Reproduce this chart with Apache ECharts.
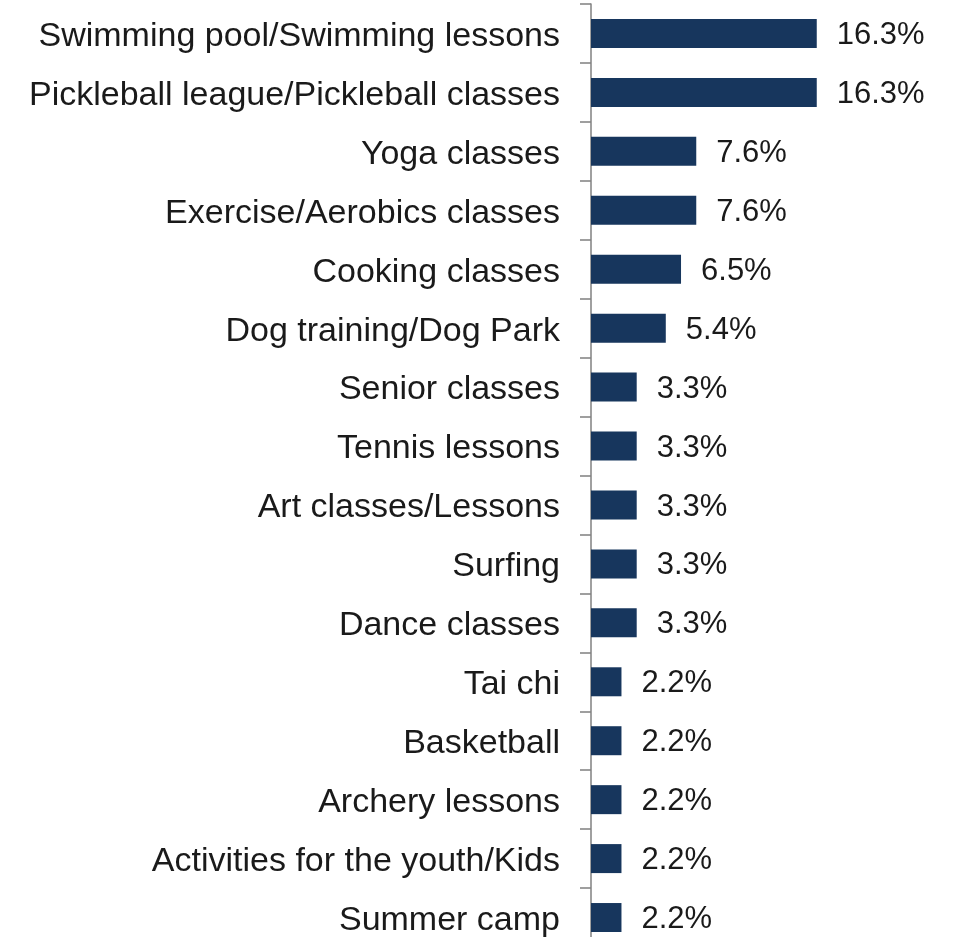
<!DOCTYPE html>
<html>
<head>
<meta charset="utf-8">
<script src="https://cdn.jsdelivr.net/npm/echarts@6/dist/echarts.min.js"></script>
<style>
html,body{margin:0;padding:0;background:#fff;overflow:hidden;}
#chart{width:953px;height:960px;}
</style>
</head>
<body>
<div id="chart"></div>
<script>
const categories = [
  "Swimming pool/Swimming lessons",
  "Pickleball league/Pickleball classes",
  "Yoga classes",
  "Exercise/Aerobics classes",
  "Cooking classes",
  "Dog training/Dog Park",
  "Senior classes",
  "Tennis lessons",
  "Art classes/Lessons",
  "Surfing",
  "Dance classes",
  "Tai chi",
  "Basketball",
  "Archery lessons",
  "Activities for the youth/Kids",
  "Summer camp"
];
const values = [16.3, 16.3, 7.6, 7.6, 6.5, 5.4, 3.3, 3.3, 3.3, 3.3, 3.3, 2.2, 2.2, 2.2, 2.2, 2.2];

const chart = echarts.init(document.getElementById('chart'));
chart.setOption({
  animation: false,
  backgroundColor: '#ffffff',
  grid: { left: 591, top: 4, width: 277, height: 943, containLabel: false },
  xAxis: {
    type: 'value', min: 0, max: 20,
    show: false
  },
  yAxis: {
    type: 'category',
    data: categories,
    inverse: true,
    axisLine: { show: true, lineStyle: { color: '#808080', width: 1.5 } },
    axisTick: { show: true, length: 11, lineStyle: { color: '#808080', width: 1.5 } },
    axisLabel: {
      margin: 31,
      formatter: v => '{t|' + v + '}',
      rich: {
        t: {
          padding: [6, 0, 0, 0],
          fontFamily: 'Liberation Sans, Arial, sans-serif',
          fontSize: 34,
          color: '#1a1a1a'
        }
      }
    }
  },
  series: [{
    type: 'bar',
    data: values,
    barWidth: 29,
    itemStyle: { color: '#17365d' },
    label: {
      show: true,
      position: 'right',
      distance: 20,
      offset: [0, 2],
      fontFamily: 'Liberation Sans, Arial, sans-serif',
      fontSize: 31,
      color: '#1a1a1a',
      formatter: p => p.value.toFixed(1) + '%'
    }
  }]
});
</script>
</body>
</html>
